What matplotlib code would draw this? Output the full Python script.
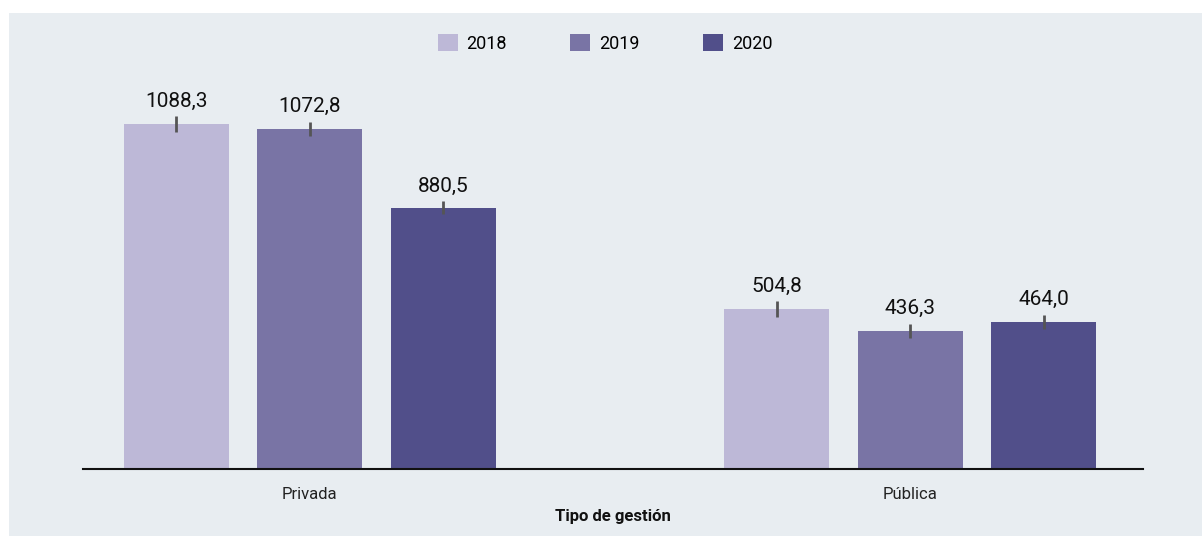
import matplotlib
matplotlib.use("Agg")
import matplotlib.pyplot as plt
from matplotlib.patches import Rectangle
import numpy as np

plt.rcParams['font.family'] = ['Roboto', 'DejaVu Sans']

categories = ["Privada", "Pública"]
years = ["2018", "2019", "2020"]
# labelled values per year (Privada, Pública)
values = {
    "2018": [1088.3, 504.8],
    "2019": [1072.8, 436.3],
    "2020": [880.5, 464.0],
}
# bar heights as drawn in the picture
heights = {
    "2018": [1088.3, 504.8],
    "2019": [1072.8, 436.3],
    "2020": [824.0, 464.0],
}
errors = {
    "2018": [25, 24],
    "2019": [23, 22],
    "2020": [21, 22],
}
colors = ["#bdb8d7", "#7974a5", "#514f8a"]

W, H = 1202, 536
fig = plt.figure(figsize=(W / 100, H / 100), dpi=100, facecolor="white")
bg = "#e8edf1"
fig.patches.append(Rectangle((9 / W, 0), 1 - 9 / W, 1 - 13 / H,
                             transform=fig.transFigure, facecolor=bg,
                             edgecolor="none", zorder=-10))

left, right = 83 / W, 1143 / W
bottom = (H - 469) / H
top_px = 80
ax = fig.add_axes([left, bottom, right - left, (469 - top_px) / H])
ax.set_facecolor("none")

x = np.arange(len(categories))
bw = 0.175
step = 0.2225
for i, yr in enumerate(years):
    xs = x + (i - 1) * step
    ax.bar(xs, heights[yr], width=bw, color=colors[i], label=yr, zorder=2)
    ax.errorbar(xs, heights[yr], yerr=errors[yr], fmt="none",
                ecolor="#555555", elinewidth=2, capsize=0, zorder=3)
    for xv, hv, ev, lv in zip(xs, heights[yr], errors[yr], values[yr]):
        ax.annotate(f"{lv:.1f}".replace(".", ","), (xv, hv + ev),
                    xytext=(0, 4), textcoords="offset points",
                    ha="center", va="bottom", fontsize=15, color="#111111")

ax.set_xlim(-0.378, 1.388)
ax.set_ylim(0, (469 - top_px) / 0.317)
ax.set_xticks(x)
ax.set_xticklabels(categories, fontsize=12, color="#222222")
ax.tick_params(axis="x", length=0, pad=13)
ax.set_yticks([])
for s in ["top", "right", "left"]:
    ax.spines[s].set_visible(False)
ax.spines["bottom"].set_color("#111111")
ax.spines["bottom"].set_linewidth(1.5)
ax.set_xlabel("Tipo de gestión", fontsize=12, fontweight="bold",
              color="#111111", labelpad=5)

leg = fig.legend(loc="center", bbox_to_anchor=(605 / W, 1 - 43.5 / H),
                 ncol=3, frameon=False, fontsize=13, handlelength=1.1,
                 handleheight=1.1, handletextpad=0.5, columnspacing=3.5)

fig.savefig("out.png", dpi=100, facecolor="white")
